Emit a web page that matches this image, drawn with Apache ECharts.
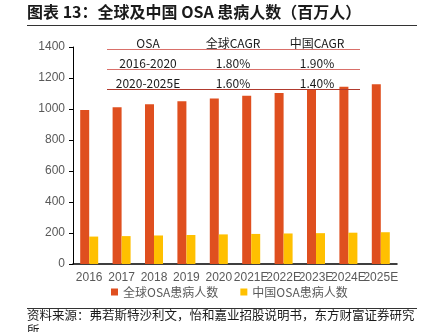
<!DOCTYPE html>
<html><head><meta charset="utf-8">
<script src="https://cdn.jsdelivr.net/npm/echarts@6/dist/echarts.min.js"></script>
<style>html,body{margin:0;padding:0;background:#fff}#c{width:421px;height:332px}</style>
</head><body><div id="c"></div>
<script>
var categories = ['2016','2017','2018','2019','2020','2021E','2022E','2023E','2024E','2025E'];
var globalOSA = [993, 1012, 1031, 1050, 1068, 1086, 1104, 1124, 1144, 1160];
var chinaOSA = [177, 180, 184, 187, 191, 194, 197, 199, 202, 205];
var seriesNames = ['全球OSA患病人数', '中国OSA患病人数'];
var tableHeader = ['OSA', '全球CAGR', '中国CAGR'];
var tableRows = [['2016-2020', '1.80%', '1.90%'], ['2020-2025E', '1.60%', '1.40%']];
var title = '图表 13：全球及中国 OSA 患病人数（百万人）';
var source = '资料来源：弗若斯特沙利文，怡和嘉业招股说明书，东方财富证券研究所';

var cjk = '"Noto Sans CJK SC", sans-serif';
var colX = [148, 233, 317];
var rowY = [43, 63, 83];
var lineY = [49.5, 69.5, 89.5];
var g = [];
g.push({type:'text', left:27, top:4, style:{text:title, font:'bold 16px ' + cjk, fill:'#1a1a1a'}});
g.push({type:'line', shape:{x1:27,y1:25.5,x2:417,y2:25.5}, style:{stroke:'#333', lineWidth:1}});
g.push({type:'line', shape:{x1:27,y1:308.5,x2:417,y2:308.5}, style:{stroke:'#333', lineWidth:1}});
g.push({type:'text', left:27, top:308, style:{text:source.slice(0, -1) + '\n' + source.slice(-1), lineHeight:15, font:'12.5px ' + cjk, fill:'#1a1a1a'}});
var allRows = [tableHeader].concat(tableRows);
allRows.forEach(function(r, i){
  r.forEach(function(t, j){
    g.push({type:'text', x:colX[j], y:rowY[i], z:10, style:{text:t, font:'12px ' + cjk, fill:'#1a1a1a', align:'center', verticalAlign:'middle'}});
  });
});
lineY.forEach(function(y, i){
  g.push({type:'line', z:10, shape:{x1:107,y1:y,x2:360,y2:y}, style:{stroke: i==2 ? '#B03A2E' : '#D9706A', lineWidth:1}});
});

var chart = echarts.init(document.getElementById('c'));
chart.setOption({
  animation:false,
  grid:{left:73, right:24, top:47, bottom:68},
  legend:{bottom:29, left:106, itemWidth:7, itemHeight:7, itemGap:22, icon:'rect',
    textStyle:{fontSize:12, color:'#595959', fontFamily:cjk}},
  xAxis:{type:'category', data:categories,
    axisLine:{lineStyle:{color:'#000', width:1.5}}, axisTick:{show:false},
    axisLabel:{color:'#595959', fontSize:12, interval:0, margin:8, fontFamily:'"Liberation Sans", sans-serif'}},
  yAxis:{type:'value', min:0, max:1400, interval:200,
    axisLine:{show:true, lineStyle:{color:'#000', width:1}},
    axisTick:{show:true, length:4, lineStyle:{color:'#000'}},
    splitLine:{show:false},
    axisLabel:{color:'#595959', fontSize:12, margin:8, formatter:function(v){return String(v);}, fontFamily:'"Liberation Sans", sans-serif'}},
  series:[
    {name:seriesNames[0], type:'bar', data:globalOSA, barWidth:9, barGap:'0%', itemStyle:{color:'#DF4F1F'}},
    {name:seriesNames[1], type:'bar', data:chinaOSA, barWidth:9, itemStyle:{color:'#FFC000'}}
  ],
  graphic:g
});
</script></body></html>
